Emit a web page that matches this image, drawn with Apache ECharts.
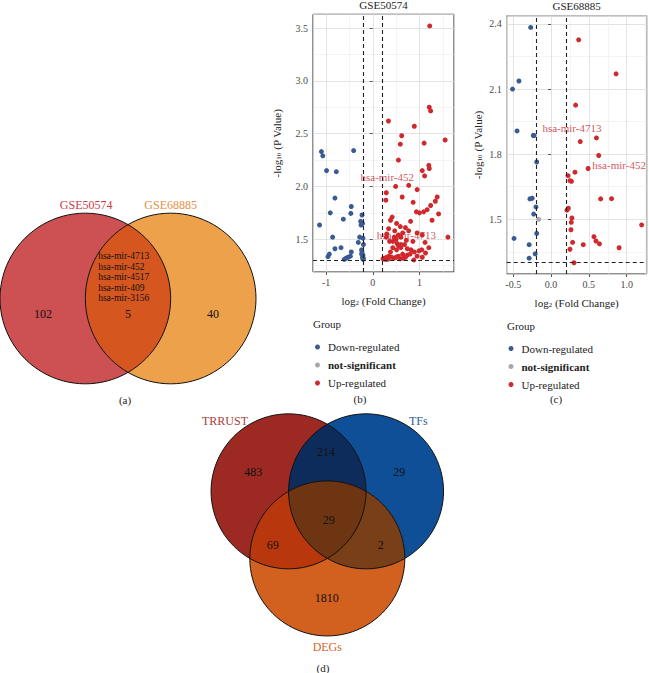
<!DOCTYPE html>
<html>
<head>
<meta charset="utf-8">
<script src="https://cdn.jsdelivr.net/npm/echarts@6/dist/echarts.min.js"></script>
<style>html,body{margin:0;padding:0;background:#fff;}#c{width:649px;height:673px;}</style>
</head>
<body>
<div id="c"></div>
<script>
// ---------------- DATA ----------------
const groupNames = ['Down-regulated', 'not-significant', 'Up-regulated'];

// Panel (a) Venn
const vennA_sets = ['GSE50574', 'GSE68885'];
const vennA_counts = [102, 5, 40];           // GSE50574 only, both, GSE68885 only
const vennA_shared = ['hsa-mir-4713', 'hsa-mir-452', 'hsa-mir-4517', 'hsa-mir-409', 'hsa-mir-3156'];

// Panel (d) Venn
const vennD_sets = ['TRRUST', 'TFs', 'DEGs'];
// TRRUST only, TFs only, DEGs only, TRRUST&TFs, TRRUST&DEGs, TFs&DEGs, all three
const vennD_counts = [483, 29, 1810, 214, 69, 2, 29];

// Panel (b) GSE50574 volcano: [log2FC, -log10 P]
const b_title = 'GSE50574';
const b_down = [[-1.10,2.33],[-1.07,2.29],[-0.41,2.34],[-0.99,2.15],[-0.78,2.14],[-0.81,1.89],[-0.46,1.81],
  [-0.91,1.75],[-0.47,1.745],[-1.14,1.635],[-0.63,1.69],[-0.26,1.67],[-0.25,1.635],[-0.23,1.73],[-0.22,1.65],
  [-0.86,1.52],[-0.28,1.52],[-0.21,1.51],[-0.31,1.47],[-0.81,1.41],[-0.68,1.42],[-0.93,1.36],[-0.96,1.335],
  [-0.61,1.31],[-0.53,1.33],[-0.48,1.34],[-0.46,1.38],[-0.23,1.38],[-0.21,1.35],[-0.22,1.33],[-0.21,1.31],
  [-0.20,1.32],[-0.24,1.36],[-0.57,1.32],[-0.24,1.40],[-0.20,1.45]];
const b_up = [[1.22,3.52],[1.21,2.75],[1.24,2.715],[0.336,2.62],[0.89,2.57],[0.62,2.48],[0.59,2.40],[1.10,2.41],
  [1.55,2.44],[0.55,2.25],[1.20,2.20],[1.21,2.17],[1.11,2.10],[1.06,2.15],[0.77,2.01],[0.49,2.00],[0.95,1.97],
  [0.29,1.94],[0.28,1.87],[0.63,1.90],[1.38,1.90],[1.34,1.86],[0.865,1.85],[1.24,1.82],[1.165,1.78],[0.935,1.76],
  [1.00,1.75],[1.41,1.74],[1.09,1.76],[0.415,1.71],[0.38,1.68],[1.27,1.68],[0.81,1.67],[0.51,1.65],[0.59,1.62],
  [0.70,1.61],[0.34,1.60],[0.77,1.58],[0.95,1.56],[1.06,1.54],[1.61,1.52],[0.29,1.52],[0.46,1.52],[0.50,1.50],
  [0.55,1.54],[0.60,1.52],[0.43,1.48],[0.52,1.46],[0.55,1.44],[0.60,1.42],[0.43,1.42],[0.51,1.40],[0.74,1.41],
  [0.82,1.40],[0.89,1.38],[0.99,1.39],[1.05,1.40],[1.20,1.42],[1.13,1.37],[0.95,1.34],[0.80,1.36],[0.74,1.35],
  [0.64,1.36],[0.55,1.34],[0.25,1.32],[0.30,1.33],[0.35,1.34],[0.40,1.33],[0.45,1.32],[0.50,1.33],[0.58,1.315],
  [0.65,1.32],[0.88,1.304],[1.06,1.33],[0.27,1.31],[0.32,1.31],[0.22,1.315],[0.70,1.33],[0.30,1.55],[0.36,1.48],
  [0.64,1.56],[0.72,1.49],[0.86,1.48],[1.12,1.47],[0.47,1.58],[0.60,1.45],[0.38,1.38],[0.68,1.45]];
const b_labels = [{name:'hsa-mir-452', value:[0.31,2.09]}, {name:'hsa-mir-4713', value:[0.72,1.54]}];

// Panel (c) GSE68885 volcano
const c_title = 'GSE68885';
const c_down = [[-0.27,2.384],[-0.425,2.137],[-0.51,2.10],[-0.45,1.907],[-0.235,1.886],[-0.225,1.886],[-0.19,1.764],
  [-0.28,1.594],[-0.25,1.597],[-0.20,1.557],[-0.23,1.524],[-0.19,1.435],[-0.49,1.412],[-0.29,1.383],[-0.21,1.341],[-0.29,1.321]];
const c_ns = [[-0.164,1.50]];
const c_up = [[0.365,2.327],[0.86,2.17],[0.325,2.026],[0.60,1.875],[0.386,1.858],[0.63,1.794],[0.49,1.734],[0.316,1.717],
  [0.224,1.701],[0.25,1.678],[0.27,1.675],[0.656,1.594],[0.80,1.595],[0.228,1.551],[0.21,1.542],[0.276,1.506],[0.267,1.486],
  [0.263,1.452],[1.198,1.474],[0.567,1.42],[0.594,1.40],[0.64,1.387],[0.285,1.394],[0.426,1.383],[0.90,1.369],[0.25,1.362],[0.303,1.30]];
const c_labels = [{name:'hsa-mir-4713', value:[0.276,1.92]}, {name:'hsa-mir-452', value:[0.90,1.75]}];

const fcCut = [-0.2, 0.2];
const pCut = 1.301; // -log10(0.05)

// ---------------- STYLE / LAYOUT ----------------
const FONT = '"Liberation Serif", "DejaVu Serif", serif';
const COL = { down:'#3a5a92', ns:'#a8a8a8', up:'#d0282c', lab:'#c4262b' };

const VENN_A = {
  centers: [[-0.5,0],[0.5,0]], r: 1,
  fills: ['#cd5052', '#eea14b'], pairFills: [{s:[0,1], c:'#d5561f'}], tripleFill: null,
  countPos: [[-0.996,-0.176],[0,-0.176],[0.996,-0.176]],
  setPos: [[-0.49,1.09],[0.50,1.09]], setColors: ['#c9404a','#e98f49'],
  listPos: [-0.35,0.25], listStep: 0.124
};
const VENN_D = {
  centers: [[-0.5,0.2887],[0.5,0.2887],[0,-0.5774]], r: 1,
  fills: ['#9c2a23', '#0f4f97', '#d2601f'],
  pairFills: [{s:[0,1], c:'#0d2c5b'}, {s:[0,2], c:'#b9370c'}, {s:[1,2], c:'#783f19'}],
  tripleFill: '#6e3512',
  // order matches vennD_counts
  countPos: [[-0.955,0.534],[0.929,0.534],[-0.008,-1.092],[-0.017,0.792],[-0.705,-0.404],[0.689,-0.404],[0.018,-0.081]],
  setPos: [[-1.32,1.196],[1.174,1.196],[0,-1.716]], setColors: ['#a83c3a','#2b5b9c','#d9652b']
};

function regionPolygon(centers, r, idxs) {
  const arcs = [];
  idxs.forEach(k => {
    const ck = centers[k];
    let lo = -Infinity, hi = Infinity, base = null;
    idxs.forEach(j => {
      if (j === k) return;
      const cj = centers[j];
      const dx = cj[0]-ck[0], dy = cj[1]-ck[1];
      const d = Math.hypot(dx, dy);
      const phi = Math.atan2(dy, dx);
      const a = Math.acos(d/(2*r));
      if (base === null) base = phi;
      let p = phi - base;
      while (p > Math.PI) p -= 2*Math.PI;
      while (p <= -Math.PI) p += 2*Math.PI;
      lo = Math.max(lo, p - a); hi = Math.min(hi, p + a);
    });
    if (hi > lo) arcs.push({k: k, a0: base+lo, a1: base+hi});
  });
  let mx = 0, my = 0;
  arcs.forEach(A => { const m = (A.a0+A.a1)/2; mx += centers[A.k][0]+r*Math.cos(m); my += centers[A.k][1]+r*Math.sin(m); });
  mx /= arcs.length; my /= arcs.length;
  arcs.forEach(A => { const m = (A.a0+A.a1)/2;
    A.ang = Math.atan2(centers[A.k][1]+r*Math.sin(m)-my, centers[A.k][0]+r*Math.cos(m)-mx); });
  arcs.sort((p, q) => p.ang - q.ang);
  const pts = [];
  arcs.forEach(A => { const n = 48;
    for (let i = 0; i <= n; i++) { const t = A.a0+(A.a1-A.a0)*i/n;
      pts.push([centers[A.k][0]+r*Math.cos(t), centers[A.k][1]+r*Math.sin(t)]); } });
  return pts;
}

function vennSeries(gridIdx, L, sets, counts, extra) {
  return {
    type: 'custom', coordinateSystem: 'cartesian2d', xAxisIndex: gridIdx, yAxisIndex: gridIdx,
    silent: true, clip: false, data: [[0,0]],
    renderItem: function (params, api) {
      const o = api.coord([0,0]);
      const unit = Math.abs(api.coord([1,0])[0] - o[0]);
      const rpx = L.r * unit;
      const ch = [];
      L.centers.forEach((c, i) => {
        const p = api.coord(c);
        ch.push({type:'circle', shape:{cx:p[0], cy:p[1], r:rpx}, style:{fill:L.fills[i], stroke:null}});
      });
      L.pairFills.forEach(pf => {
        const pts = regionPolygon(L.centers, L.r, pf.s).map(q => api.coord(q));
        ch.push({type:'polygon', shape:{points:pts}, style:{fill:pf.c, stroke:null}});
      });
      if (L.tripleFill) {
        const pts = regionPolygon(L.centers, L.r, [0,1,2]).map(q => api.coord(q));
        ch.push({type:'polygon', shape:{points:pts}, style:{fill:L.tripleFill, stroke:null}});
      }
      L.centers.forEach((c) => {
        const p = api.coord(c);
        ch.push({type:'circle', shape:{cx:p[0], cy:p[1], r:rpx}, style:{fill:'none', stroke:'#111', lineWidth:1}});
      });
      counts.forEach((v, i) => {
        const p = api.coord(L.countPos[i]);
        ch.push({type:'text', x:p[0], y:p[1], style:{text:String(v), fill:'#111', font:'12px ' + FONT, align:'center', verticalAlign:'middle'}});
      });
      sets.forEach((s, i) => {
        const p = api.coord(L.setPos[i]);
        ch.push({type:'text', x:p[0], y:p[1], style:{text:s, fill:L.setColors[i], font:'12px ' + FONT, align:'center', verticalAlign:'middle'}});
      });
      if (extra) {
        const n = extra.length;
        extra.forEach((s, i) => {
          const p = api.coord([L.listPos[0], L.listPos[1] + ((n-1)/2 - i) * L.listStep]);
          ch.push({type:'text', x:p[0], y:p[1], style:{text:s, fill:'#111', font:'9.5px ' + FONT, lineHeight:10, align:'left', verticalAlign:'middle'}});
        });
      }
      return {type:'group', children:ch};
    }
  };
}

function volcanoAxes(gridIdx, xr, yr, xInt, yInt, xFmt, yFmt, yGap) {
  const common = {
    gridIndex: gridIdx, type: 'value', scale: true,
    axisLine: {show:false},
    axisTick: {show:true, length:3, lineStyle:{color:'#333', width:0.8}},
    splitLine: {show:true, lineStyle:{color:'#dcdcdc', width:0.8}},
    minorTick: {show:false, splitNumber:2},
    minorSplitLine: {show:true, lineStyle:{color:'#ececec', width:0.6}},
    nameTextStyle: {fontFamily:FONT, fontSize:11, color:'#222',
      rich:{s:{fontFamily:FONT, fontSize:7, color:'#222', verticalAlign:'bottom', lineHeight:8}}}
  };
  return {
    x: Object.assign({}, common, {
      min: xr[0], max: xr[1], minInterval: xInt, maxInterval: xInt,
      axisLabel: {fontFamily:FONT, fontSize:10, color:'#4a4a4a', margin:5, showMinLabel:false, showMaxLabel:false, formatter:xFmt},
      name: 'log{s|2} (Fold Change)', nameLocation:'middle', nameGap: 23
    }),
    y: Object.assign({}, common, {
      min: yr[0], max: yr[1], minInterval: yInt, maxInterval: yInt,
      axisLabel: {fontFamily:FONT, fontSize:10, color:'#4a4a4a', margin:5, showMinLabel:false, showMaxLabel:false, formatter:yFmt},
      name: '-log{s|10} (P Value)', nameLocation:'middle', nameGap: yGap, nameRotate: 90
    })
  };
}

const fmtInt = v => (Math.abs(v - Math.round(v)) < 1e-6 ? String(Math.round(v)) : '');
const fmt1 = v => (Math.round(v*10)/10).toFixed(1);

const axB = volcanoAxes(1, [-1.28, 1.74], [1.19, 3.63], 1, 0.5, fmtInt, fmt1, 31);
const axC = volcanoAxes(2, [-0.587, 1.265], [1.248, 2.438], 0.5, 0.3, fmt1, fmt1, 23);

const hidden = (gi, mn, mx) => ({gridIndex:gi, type:'value', min:mn, max:mx, show:false, splitLine:{show:false}});

function pts(name, data, color, xi) {
  return {name:name, type:'scatter', xAxisIndex:xi, yAxisIndex:xi, data:data, symbolSize:5,
    itemStyle:{color:color, opacity:1}, silent:true, z:3};
}
function thresholdLines(xi) {
  return {name:'thresholds', type:'scatter', xAxisIndex:xi, yAxisIndex:xi, data:[], silent:true,
    markLine:{silent:true, symbol:'none', label:{show:false}, animation:false,
      lineStyle:{type:[4,3], color:'#222', width:1.1},
      data:[{xAxis:fcCut[0]},{xAxis:fcCut[1]},{yAxis:pCut}]}, z:4};
}
function labelSeries(data, xi) {
  return {name:'labels', type:'scatter', xAxisIndex:xi, yAxisIndex:xi, data:data, symbolSize:0, silent:true, z:5,
    label:{show:true, position:'inside', formatter: p => p.name, fontFamily:FONT, fontSize:11, color:COL.lab}};
}

const legendData = [{name:groupNames[0]}, {name:groupNames[1], textStyle:{fontWeight:'bold'}}, {name:groupNames[2]}];
function legend(left, top) {
  return {orient:'vertical', left:left, top:top, icon:'circle', itemWidth:5, itemHeight:5, itemGap:4,
    selectedMode:false, data:legendData,
    textStyle:{fontFamily:FONT, fontSize:11, color:'#222', lineHeight:14, padding:[0,0,0,3]}};
}

function txt(x, y, s, size, color, align) {
  return {type:'text', x:x, y:y, silent:true, style:{text:s, fill:color||'#222', font:(size||11)+'px '+FONT, align:align||'center', verticalAlign:'middle'}};
}

const option = {
  animation: false,
  backgroundColor: '#fff',
  grid: [
    {left:0, top:170.5, width:256, height:256, show:false},
    {left:313, top:14.3, width:141, height:257.7, show:true, borderColor:'#222', borderWidth:1, backgroundColor:'transparent'},
    {left:506.7, top:15.7, width:140, height:258.3, show:true, borderColor:'#222', borderWidth:1, backgroundColor:'transparent'},
    {left:172.3, top:358.7, width:310, height:310, show:false}
  ],
  xAxis: [hidden(0,-1.5,1.5), axB.x, axC.x, hidden(3,-2,2)],
  yAxis: [hidden(0,-1.5,1.5), axB.y, axC.y, hidden(3,-2,2)],
  legend: [legend(310, 335), legend(503.5, 336.5)],
  graphic: [
    txt(383.5, 5, b_title, 11),
    txt(576.7, 5.5, c_title, 11),
    txt(313, 324, 'Group', 11, '#222', 'left'),
    txt(507, 326, 'Group', 11, '#222', 'left'),
    txt(125, 400, '(a)', 11),
    txt(360, 398.5, '(b)', 11),
    txt(556, 398.5, '(c)', 11),
    txt(323, 667.5, '(d)', 11)
  ],
  series: [
    vennSeries(0, VENN_A, vennA_sets, vennA_counts, vennA_shared),
    vennSeries(3, VENN_D, vennD_sets, vennD_counts, null),
    pts(groupNames[0], b_down, COL.down, 1),
    pts(groupNames[2], b_up, COL.up, 1),
    thresholdLines(1),
    labelSeries(b_labels, 1),
    pts(groupNames[0], c_down, COL.down, 2),
    pts(groupNames[1], c_ns, COL.ns, 2),
    pts(groupNames[2], c_up, COL.up, 2),
    thresholdLines(2),
    labelSeries(c_labels, 2)
  ]
};

const chart = echarts.init(document.getElementById('c'), null, {renderer:'svg', width:649, height:673});
chart.setOption(option);
</script>
</body>
</html>
